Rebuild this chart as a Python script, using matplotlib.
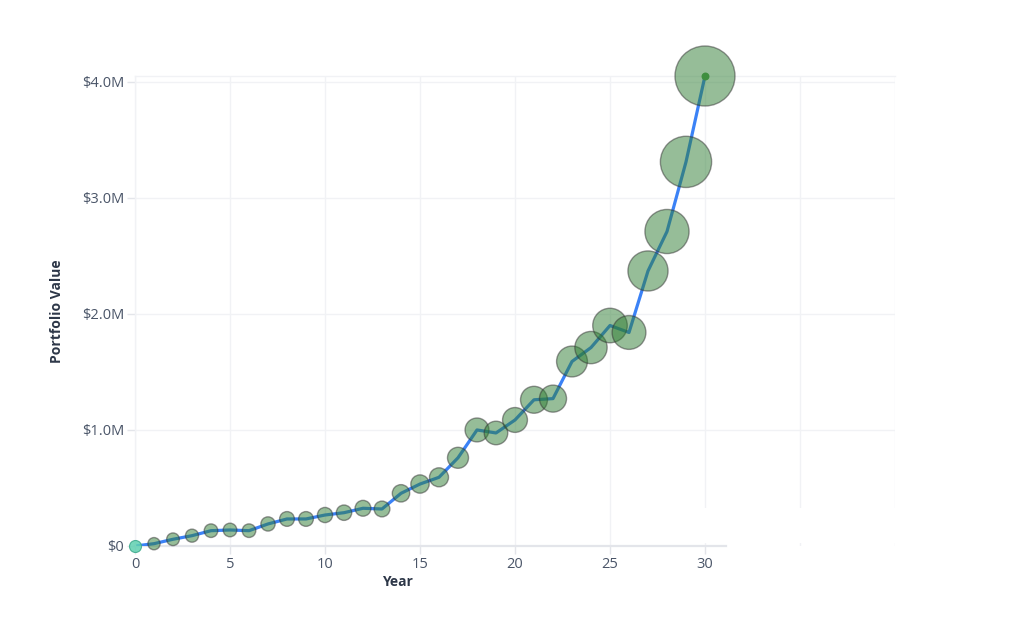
import numpy as np
import matplotlib
matplotlib.use("Agg")
import matplotlib.pyplot as plt
from matplotlib.patches import Rectangle

plt.rcParams['font.family'] = ['Open Sans', 'DejaVu Sans']

# ── Data ────────────────────────────────────────────────────────────────────
years = list(range(0, 31))
value_m = [0.00, 0.02, 0.058, 0.089, 0.132, 0.138, 0.132, 0.19, 0.233, 0.233,
           0.267, 0.287, 0.325, 0.319, 0.454, 0.534, 0.592, 0.76, 1.00, 0.974,
           1.086, 1.26, 1.27, 1.59, 1.71, 1.90, 1.84, 2.37, 2.71, 3.31, 4.05]
x_ticks = [0, 5, 10, 15, 20, 25, 30]
y_ticks = [0, 1.0, 2.0, 3.0, 4.0]
y_labels = ['$0', '$1.0M', '$2.0M', '$3.0M', '$4.0M']

years = np.array(years)
vals = np.array(value_m) * 1e6

GRID = '#f1f2f5'
AXIS = '#e3e5ea'
TICK_TXT = '#4a5568'
TITLE_TXT = '#2d3748'

fig = plt.figure(figsize=(10.27, 6.36), dpi=100)
ax = fig.add_axes([135/1027, 1 - 546/636, 760/1027, 470/636])

ax.set_xlim(0, 40)
ax.set_ylim(0, 4.05e6)

# grid
for gx in range(0, 41, 5):
    ax.axvline(gx, color=GRID, lw=1, zorder=0)
for gy in y_ticks[1:]:
    ax.axhline(gy * 1e6, color=GRID, lw=1, zorder=0)
for s in ['top', 'left']:
    ax.spines[s].set_color(GRID)
    ax.spines[s].set_linewidth(1)
ax.spines['bottom'].set_visible(False)
ax.spines['right'].set_visible(False)

# white box hiding lower right grid, and the short x axis line
ax.add_patch(Rectangle((29.05, 0.03e6), 12, 0.30e6, facecolor='white',
                       edgecolor='none', zorder=0.5, clip_on=False))
ax.plot([0, 31.1], [0, 0], color=AXIS, lw=1.6, zorder=1, clip_on=False)

# line + bubbles
ax.plot(years, vals, color='#3b82f6', lw=2.3, zorder=2, solid_capstyle='round')
diam_px = 12 + 11.85 * np.array(value_m)
sizes = (diam_px * 0.72) ** 2
ax.scatter(years[1:], vals[1:], s=sizes[1:], facecolor='#2e7d32', alpha=0.5,
           edgecolor='#333333', linewidth=1.0, zorder=3, clip_on=False)
ax.scatter(years[:1], vals[:1], s=sizes[:1], facecolor='#5fd0b0', alpha=0.85,
           edgecolor='#3aa88a', linewidth=0.8, zorder=4, clip_on=False)
ax.scatter(years[-1:], vals[-1:], s=22, color='#3f8f3f', zorder=5, clip_on=False)

# ticks
ax.set_xticks(x_ticks)
ax.set_xticklabels([str(t) for t in x_ticks])
ax.set_yticks([v * 1e6 for v in y_ticks])
ax.set_yticklabels(y_labels)
ax.tick_params(axis='both', colors=AXIS, labelcolor=TICK_TXT, labelsize=10.5,
               length=6, width=1)
ax.tick_params(axis='y', pad=2)
ax.tick_params(axis='x', pad=2)

ax.set_xlabel('Year', fontsize=10, fontweight='bold', color=TITLE_TXT,
              va='center', ha='center')
ax.xaxis.set_label_coords((397 - 135) / 760, -(582 - 546) / 470)
ax.set_ylabel('Portfolio Value', fontsize=10, fontweight='bold', color=TITLE_TXT,
              va='center', ha='center')
ax.yaxis.set_label_coords(-(135 - 57) / 760, (546 - 311) / 470)

fig.savefig('out.png', dpi=100, facecolor='white')
